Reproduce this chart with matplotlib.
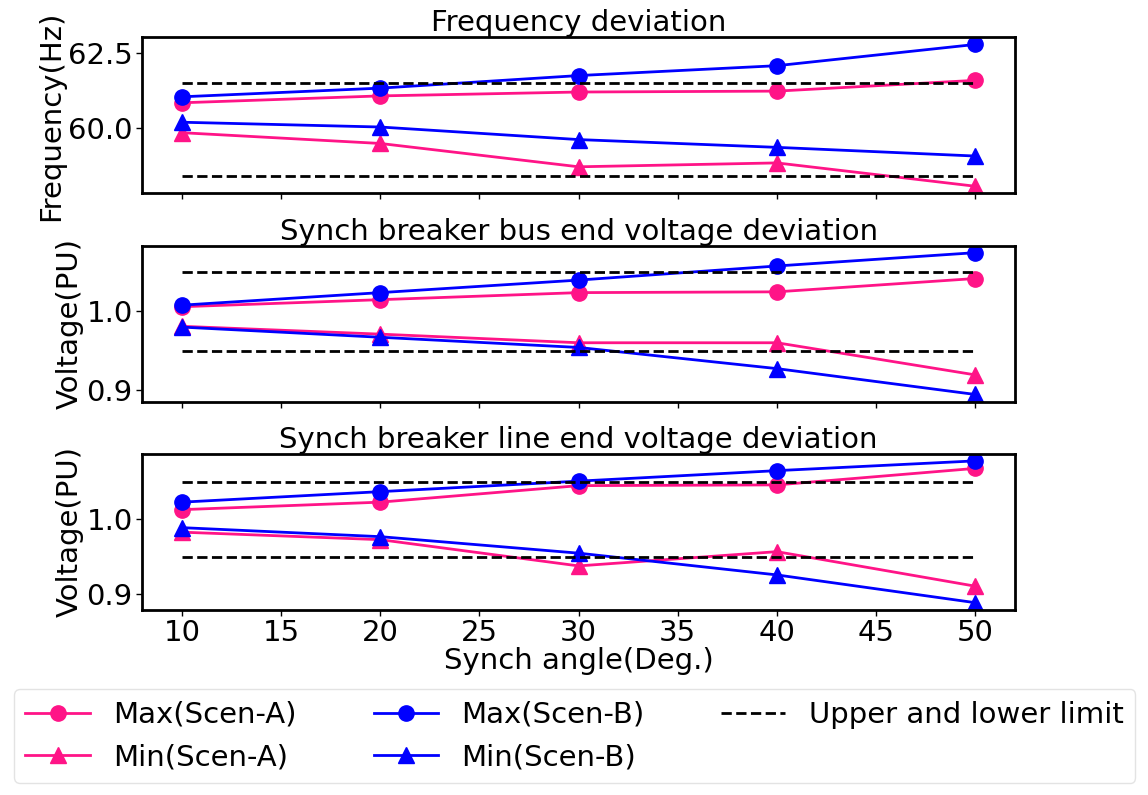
import matplotlib

matplotlib.use("Agg")
import matplotlib.pyplot as plt

angles = [10, 20, 30, 40, 50]

# frequency deviation (Hz)
freq_max_a = [60.84, 61.07, 61.20, 61.23, 61.59]
freq_min_a = [59.84, 59.48, 58.70, 58.83, 58.05]
freq_max_b = [61.04, 61.33, 61.75, 62.08, 62.79]
freq_min_b = [60.19, 60.03, 59.61, 59.35, 59.06]
freq_limits = [61.5, 58.38]

# bus end voltage (PU)
bus_max_a = [1.006, 1.015, 1.024, 1.025, 1.042]
bus_min_a = [0.981, 0.971, 0.960, 0.960, 0.919]
bus_max_b = [1.008, 1.024, 1.040, 1.058, 1.075]
bus_min_b = [0.980, 0.967, 0.954, 0.927, 0.894]

# line end voltage (PU)
line_max_a = [1.013, 1.023, 1.045, 1.046, 1.068]
line_min_a = [0.983, 0.973, 0.938, 0.957, 0.911]
line_max_b = [1.023, 1.037, 1.051, 1.065, 1.078]
line_min_b = [0.989, 0.977, 0.955, 0.926, 0.889]
volt_limits = [1.05, 0.95]

titles = [
    "Frequency deviation",
    "Synch breaker bus end voltage deviation",
    "Synch breaker line end voltage deviation",
]
ylabels = ["Frequency(Hz)", "Voltage(PU)", "Voltage(PU)"]
yticks = [[60.0, 62.5], [0.9, 1.0], [0.9, 1.0]]

PINK = "#ff1487"
BLUE = "#0000ff"
FS = 21

plt.rcParams["font.size"] = FS

fig, axes = plt.subplots(3, 1, figsize=(11.48, 7.95), dpi=100, sharex=True)
fig.subplots_adjust(left=0.124, right=0.884, top=0.953, bottom=0.233, hspace=0.335)

panels = [
    (freq_max_a, freq_min_a, freq_max_b, freq_min_b, freq_limits),
    (bus_max_a, bus_min_a, bus_max_b, bus_min_b, volt_limits),
    (line_max_a, line_min_a, line_max_b, line_min_b, volt_limits),
]

for ax, (max_a, min_a, max_b, min_b, limits), title, ylabel, ticks in zip(
    axes, panels, titles, ylabels, yticks
):
    ax.plot(angles, max_a, color=PINK, marker="o", ms=11, lw=2, label="Max(Scen-A)")
    ax.plot(angles, min_a, color=PINK, marker="^", ms=11, lw=2, label="Min(Scen-A)")
    ax.plot(angles, max_b, color=BLUE, marker="o", ms=11, lw=2, label="Max(Scen-B)")
    ax.plot(angles, min_b, color=BLUE, marker="^", ms=11, lw=2, label="Min(Scen-B)")
    for i, lim in enumerate(limits):
        ax.plot(
            [angles[0], angles[-1]],
            [lim, lim],
            color="black",
            ls="--",
            lw=2,
            label="Upper and lower limit" if i == 0 else None,
        )
    ax.set_title(title, fontsize=FS, pad=2)
    ax.set_ylabel(ylabel, fontsize=FS, labelpad=2)
    ax.set_yticks(ticks)
    for side in ax.spines.values():
        side.set_linewidth(2)
    ax.tick_params(labelsize=FS, width=1, length=4, pad=3)

axes[0].yaxis.set_major_formatter(matplotlib.ticker.FormatStrFormatter("%.1f"))
axes[-1].set_xticks([10, 15, 20, 25, 30, 35, 40, 45, 50])
axes[-1].set_xlabel("Synch angle(Deg.)", fontsize=FS, labelpad=0)

handles, labels = axes[0].get_legend_handles_labels()
fig.legend(
    handles,
    labels,
    loc="lower left",
    bbox_to_anchor=(0.012, 0.015, 0.977, 0.135),
    mode="expand",
    ncol=3,
    fontsize=FS,
    handlelength=2.2,
    frameon=True,
    fancybox=True,
    edgecolor="#dddddd",
    borderaxespad=0.0,
)

fig.savefig("out.png", dpi=100)
